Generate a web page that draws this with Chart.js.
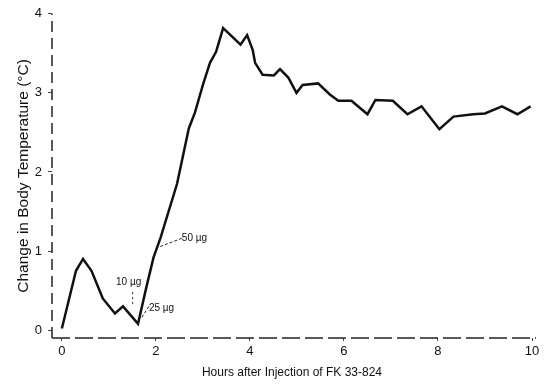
<!DOCTYPE html>
<html>
<head>
<meta charset="utf-8">
<script src="https://cdn.jsdelivr.net/npm/chart.js@4/dist/chart.umd.min.js"></script>
<style>
  body { margin: 0; background: #fff; }
  #wrap { width: 550px; height: 384px; }
</style>
</head>
<body>
<div id="wrap"><canvas id="tempChart" width="550" height="384"></canvas></div>
<script>
// hours after injection
var hours = [0, 0.3, 0.45, 0.63, 0.87, 1.13, 1.3, 1.62, 1.8, 1.95, 2.1, 2.45, 2.7, 2.83, 3.0,
    3.15, 3.28, 3.43, 3.8, 3.94, 4.06, 4.11, 4.27, 4.51, 4.64, 4.82, 4.99, 5.12, 5.45, 5.7,
    5.88, 6.16, 6.5, 6.67, 7.04, 7.35, 7.65, 8.03, 8.33, 8.75, 9.0, 9.36, 9.69, 9.97];
// change in body temperature (deg C)
var tempChange = [0.02, 0.75, 0.90, 0.75, 0.40, 0.21, 0.30, 0.08, 0.55, 0.92, 1.17, 1.85, 2.55, 2.75, 3.1,
    3.38, 3.52, 3.82, 3.61, 3.73, 3.54, 3.38, 3.23, 3.22, 3.30, 3.19, 3.00, 3.10, 3.12, 2.98,
    2.90, 2.90, 2.73, 2.91, 2.90, 2.73, 2.83, 2.54, 2.70, 2.73, 2.74, 2.83, 2.73, 2.83];
var xTicks = [0, 2, 4, 6, 8, 10];
var yTicks = [0, 1, 2, 3, 4];

// dose labels, placed in data units
var doseLabels = ["10 \u00b5g", "25 \u00b5g", "50 \u00b5g"];
var doseLabelX = [1.42, 2.12, 2.82];
var doseLabelY = [0.60, 0.27, 1.16];

var points = hours.map(function (h, i) { return { x: h, y: tempChange[i] }; });

// the axes in the scan are broken dashed lines, so draw them by hand
var dashedAxes = {
    id: "dashedAxes",
    beforeDatasetsDraw: function (chart) {
        var ctx = chart.ctx;
        var area = chart.chartArea;
        ctx.save();
        ctx.strokeStyle = "#222";
        ctx.lineWidth = 1.5;
        ctx.setLineDash([18, 5]);
        ctx.beginPath();
        ctx.moveTo(area.left, area.bottom);
        ctx.lineTo(area.right + 4, area.bottom);
        ctx.stroke();
        ctx.setLineDash([11, 6]);
        ctx.beginPath();
        ctx.moveTo(area.left, area.bottom);
        ctx.lineTo(area.left, area.top);
        ctx.stroke();
        ctx.restore();
    }
};

// little plugin to write the dose notes with their dotted leaders
var doseNotes = {
    id: "doseNotes",
    afterDatasetsDraw: function (chart) {
        var ctx = chart.ctx;
        var xs = chart.scales.x, ys = chart.scales.y;
        ctx.save();
        ctx.fillStyle = "#111";
        ctx.font = "10px 'Liberation Sans', Arial, sans-serif";
        ctx.textAlign = "center";
        ctx.textBaseline = "middle";
        doseLabels.forEach(function (txt, i) {
            ctx.fillText(txt, xs.getPixelForValue(doseLabelX[i]), ys.getPixelForValue(doseLabelY[i]));
        });
        ctx.strokeStyle = "#222";
        ctx.lineWidth = 1;
        ctx.setLineDash([2, 3]);
        var lx = xs.getPixelForValue(doseLabelX[0]) + 4;
        ctx.beginPath();
        ctx.moveTo(lx, ys.getPixelForValue(0.48));
        ctx.lineTo(lx, ys.getPixelForValue(0.30));
        ctx.stroke();
        ctx.setLineDash([3, 2]);
        ctx.beginPath();
        ctx.moveTo(xs.getPixelForValue(1.85), ys.getPixelForValue(0.30));
        ctx.lineTo(xs.getPixelForValue(1.68), ys.getPixelForValue(0.14));
        ctx.stroke();
        ctx.beginPath();
        ctx.moveTo(xs.getPixelForValue(2.55), ys.getPixelForValue(1.16));
        ctx.lineTo(xs.getPixelForValue(2.06), ys.getPixelForValue(1.05));
        ctx.stroke();
        ctx.restore();
    }
};

document.addEventListener("DOMContentLoaded", function () {
    var ctx = document.getElementById("tempChart").getContext("2d");
    var tickFont = { family: "'Liberation Sans', Arial, sans-serif", size: 13 };

    new Chart(ctx, {
        type: "line",
        data: {
            datasets: [{
                data: points,
                borderColor: "#111",
                borderWidth: 2.5,
                pointRadius: 0,
                tension: 0,
                fill: false
            }]
        },
        options: {
            responsive: false,
            animation: false,
            layout: { padding: { top: 12, right: 18, left: 0, bottom: 0 } },
            plugins: { legend: { display: false }, tooltip: { enabled: false } },
            scales: {
                x: {
                    type: "linear",
                    min: -0.21,
                    max: 10,
                    afterBuildTicks: function (scale) {
                        scale.ticks = xTicks.map(function (v) { return { value: v }; });
                    },
                    afterFit: function (scale) { scale.height = 46; },
                    border: { display: false },
                    grid: { drawOnChartArea: false, tickLength: 3, color: "#444" },
                    ticks: { color: "#111", font: tickFont, padding: 3, maxRotation: 0 },
                    title: {
                        display: true,
                        text: "Hours after Injection of FK 33-824",
                        color: "#111",
                        font: { family: "'Liberation Sans', Arial, sans-serif", size: 12 },
                        padding: { top: 2 }
                    }
                },
                y: {
                    type: "linear",
                    min: -0.1,
                    max: 4,
                    afterBuildTicks: function (scale) {
                        scale.ticks = yTicks.map(function (v) { return { value: v }; });
                    },
                    afterFit: function (scale) { scale.width = 52; },
                    border: { display: false },
                    grid: { drawOnChartArea: false, tickLength: 4, color: "#444" },
                    ticks: { color: "#111", font: tickFont, padding: 6 },
                    title: {
                        display: true,
                        text: "Change in Body Temperature (\u00b0C)",
                        color: "#111",
                        font: { family: "'Liberation Sans', Arial, sans-serif", size: 15.5 },
                        padding: { top: 14, bottom: 0 }
                    }
                }
            }
        },
        plugins: [dashedAxes, doseNotes]
    });
});
</script>
</body>
</html>
